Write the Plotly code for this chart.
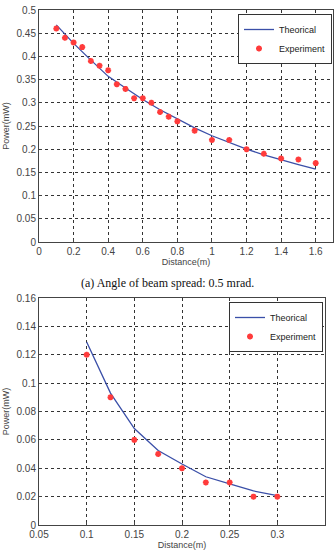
import plotly.graph_objects as go

# Top chart (a)
top_theory_x = [0.1, 0.2, 0.3, 0.4, 0.5, 0.6, 0.7, 0.8, 0.9, 1.0, 1.1, 1.2, 1.3, 1.4, 1.5, 1.6]
top_theory_y = [0.468, 0.428, 0.392, 0.357, 0.332, 0.307, 0.285, 0.265, 0.246, 0.229, 0.214, 0.200, 0.188, 0.177, 0.167, 0.157]
top_exp_x = [0.1, 0.15, 0.2, 0.25, 0.3, 0.35, 0.4, 0.45, 0.5, 0.55, 0.6, 0.65, 0.7, 0.75, 0.8,
             0.9, 1.0, 1.1, 1.2, 1.3, 1.4, 1.5, 1.6]
top_exp_y = [0.46, 0.44, 0.43, 0.42, 0.39, 0.38, 0.37, 0.34, 0.33, 0.31, 0.31, 0.30, 0.28, 0.27, 0.26,
             0.24, 0.22, 0.22, 0.20, 0.19, 0.18, 0.178, 0.17]

# Bottom chart (b)
bot_theory_x = [0.1, 0.125, 0.15, 0.175, 0.2, 0.225, 0.25, 0.275, 0.3]
bot_theory_y = [0.129, 0.093, 0.068, 0.0525, 0.043, 0.034, 0.029, 0.024, 0.0207]
bot_exp_x = [0.1, 0.125, 0.15, 0.175, 0.2, 0.225, 0.25, 0.275, 0.3]
bot_exp_y = [0.12, 0.09, 0.06, 0.05, 0.04, 0.03, 0.03, 0.02, 0.02]

caption = "(a) Angle of beam spread: 0.5 mrad."

W, H = 335, 552
LINE = "#3a4fa8"
MARK = "#ff3b3b"
FONT = "Liberation Sans, Arial, sans-serif"
AX = "#444"

def px_y(p):
    return (H - p) / H

marker = dict(symbol="asterisk-open", size=5, color=MARK, line=dict(color=MARK, width=1.8))

fig = go.Figure()
fig.add_trace(go.Scatter(x=top_theory_x, y=top_theory_y, mode="lines", name="Theorical",
                         line=dict(color=LINE, width=1.3), xaxis="x", yaxis="y", legend="legend"))
fig.add_trace(go.Scatter(x=top_exp_x, y=top_exp_y, mode="markers", name="Experiment",
                         marker=marker, xaxis="x", yaxis="y", legend="legend"))
fig.add_trace(go.Scatter(x=bot_theory_x, y=bot_theory_y, mode="lines", name="Theorical",
                         line=dict(color=LINE, width=1.3), xaxis="x2", yaxis="y2", legend="legend2"))
fig.add_trace(go.Scatter(x=bot_exp_x, y=bot_exp_y, mode="markers", name="Experiment",
                         marker=marker, xaxis="x2", yaxis="y2", legend="legend2"))

axis_common = dict(showgrid=True, gridcolor="#333", griddash="dot", gridwidth=1,
                   showline=True, linecolor=AX, linewidth=1, mirror=True,
                   zeroline=False, ticks="inside", ticklen=3, tickcolor=AX,
                   tickfont=dict(family=FONT, size=10, color="#444"), automargin=False)

title_font = dict(size=9, family=FONT, color="#444")

fig.update_layout(
    width=W, height=H, margin=dict(l=0, r=0, t=0, b=0),
    paper_bgcolor="white", plot_bgcolor="white",
    font=dict(family=FONT, size=9, color="#333"),
    xaxis=dict(domain=[39 / W, 333 / W], anchor="y", range=[0, 1.7], dtick=0.2, tick0=0,
               title=dict(text="Distance(m)", font=title_font, standoff=1), **axis_common),
    yaxis=dict(domain=[px_y(242), px_y(10)], anchor="x", range=[0, 0.5], dtick=0.05, tick0=0,
               title=dict(text="Power(mW)", font=title_font, standoff=5), **axis_common),
    xaxis2=dict(domain=[39 / W, 325 / W], anchor="y2", range=[0.05, 0.35], dtick=0.05, tick0=0.05,
                title=dict(text="Distance(m)", font=title_font, standoff=1), **axis_common),
    yaxis2=dict(domain=[px_y(525), px_y(298)], anchor="x2", range=[0, 0.16], dtick=0.02, tick0=0,
                title=dict(text="Power(mW)", font=title_font, standoff=5), **axis_common),
    legend=dict(x=332 / W, y=px_y(14), xanchor="right", yanchor="top",
                bgcolor="white", bordercolor="#333", borderwidth=1,
                font=dict(family=FONT, size=9, color="#222"), tracegroupgap=0,
                itemwidth=30),
    legend2=dict(x=323 / W, y=px_y(302), xanchor="right", yanchor="top",
                 bgcolor="white", bordercolor="#333", borderwidth=1,
                 font=dict(family=FONT, size=9, color="#222"), tracegroupgap=0,
                 itemwidth=30),
    annotations=[dict(text=caption, x=167 / W, y=px_y(283), xref="paper", yref="paper",
                      showarrow=False, xanchor="center", yanchor="middle",
                      font=dict(family="Liberation Serif, Times New Roman, serif", size=12, color="#111"))],
)

fig.write_html("out.html")
